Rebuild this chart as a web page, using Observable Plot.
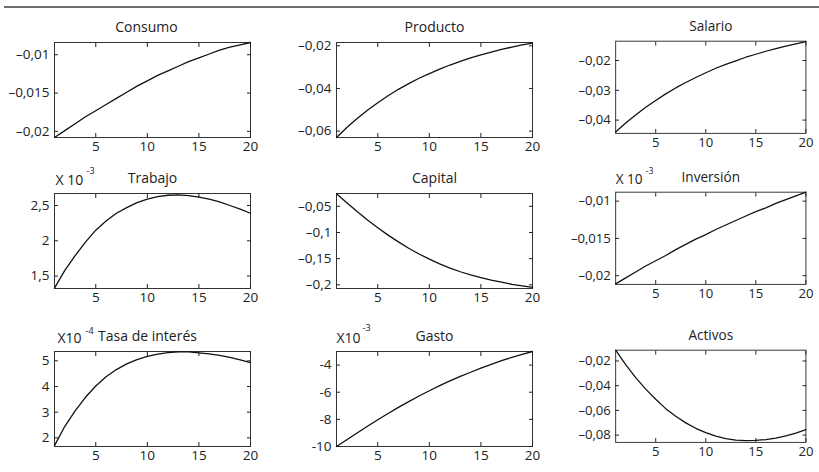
<!DOCTYPE html>
<html><head><meta charset="utf-8">
<script src="https://cdn.jsdelivr.net/npm/d3@7"></script>
<script src="https://cdn.jsdelivr.net/npm/@observablehq/plot@0.6"></script>
<style>
html,body{margin:0;padding:0;background:#fff;}
#root{position:relative;width:819px;height:472px;overflow:hidden;font-family:"Open Sans",sans-serif;}
.rule{position:absolute;left:4px;top:6px;width:815px;border-top:2px solid #6e6e6e;}
.panel{position:absolute;}
.panel svg{overflow:visible;}
</style></head><body><div id="root"><div class="rule"></div></div>
<script>
const periods = [1,2,3,4,5,6,7,8,9,10,11,12,13,14,15,16,17,18,19,20];
const titles = ["Consumo","Producto","Salario","Trabajo","Capital","Inversión","Tasa de interés","Gasto","Activos"];

const consumo   = [-0.0208,-0.0199,-0.0190,-0.0181,-0.0173,-0.0165,-0.0157,-0.0149,-0.0141,-0.0134,-0.0127,-0.0121,-0.0115,-0.0109,-0.0104,-0.0099,-0.0094,-0.0090,-0.0087,-0.0084];
const producto  = [-0.0630,-0.0583,-0.0541,-0.0502,-0.0467,-0.0434,-0.0404,-0.0377,-0.0352,-0.0330,-0.0309,-0.0290,-0.0273,-0.0257,-0.0243,-0.0229,-0.0217,-0.0206,-0.0196,-0.0187];
const salario   = [-0.0440,-0.0410,-0.0383,-0.0357,-0.0334,-0.0312,-0.0292,-0.0274,-0.0257,-0.0241,-0.0226,-0.0213,-0.0201,-0.0189,-0.0179,-0.0169,-0.0160,-0.0152,-0.0144,-0.0137];
const trabajo   = [1.33,1.58,1.79,1.98,2.15,2.28,2.39,2.47,2.54,2.59,2.625,2.645,2.65,2.64,2.62,2.59,2.55,2.50,2.45,2.39];
const capital   = [-0.026,-0.043,-0.060,-0.076,-0.091,-0.105,-0.118,-0.130,-0.141,-0.151,-0.160,-0.168,-0.175,-0.181,-0.186,-0.191,-0.195,-0.199,-0.202,-0.205];
const inversion = [-0.0211,-0.0203,-0.0195,-0.0187,-0.0180,-0.0173,-0.0165,-0.0158,-0.0151,-0.0145,-0.0138,-0.0132,-0.0126,-0.0120,-0.0114,-0.0109,-0.0103,-0.0098,-0.0093,-0.0088];
const tasa      = [1.70,2.45,3.05,3.58,4.02,4.38,4.66,4.88,5.05,5.17,5.26,5.32,5.35,5.35,5.31,5.27,5.21,5.13,5.04,4.93];
const gasto     = [-10.00,-9.50,-9.00,-8.51,-8.03,-7.57,-7.12,-6.69,-6.28,-5.89,-5.52,-5.17,-4.84,-4.53,-4.23,-3.95,-3.68,-3.43,-3.21,-3.00];
const activos   = [-0.0113,-0.0230,-0.0335,-0.0428,-0.0510,-0.0586,-0.0648,-0.0701,-0.0745,-0.0780,-0.0808,-0.0828,-0.0840,-0.0845,-0.0843,-0.0836,-0.0824,-0.0807,-0.0784,-0.0756];

const xTicks = [5,10,15,20];
const consumoTicks = [-0.02,-0.015,-0.01];
const productoTicks = [-0.06,-0.04,-0.02];
const salarioTicks = [-0.04,-0.03,-0.02];
const trabajoTicks = [1.5,2,2.5];
const capitalTicks = [-0.2,-0.15,-0.1,-0.05];
const inversionTicks = [-0.02,-0.015,-0.01];
const tasaTicks = [2,3,4,5];
const gastoTicks = [-10,-8,-6,-4];
const activosTicks = [-0.08,-0.06,-0.04,-0.02];

const fmtDash = d => "\u2013" + String(Math.abs(d)).replace(".", ",");
const fmtComma = d => String(d).replace(".", ",");
const fmtHyphen = d => String(d);

const panels = [
  {title: titles[0], values: consumo,   domain: [-0.0208,-0.0084],  ticks: consumoTicks,  fmt: fmtDash,   col:0, row:0, titleDx:-6},
  {title: titles[1], values: producto,  domain: [-0.0630,-0.01844], ticks: productoTicks, fmt: fmtDash,   col:1, row:0},
  {title: titles[2], values: salario,   domain: [-0.04446,-0.01352],ticks: salarioTicks,  fmt: fmtDash,   col:2, row:0},
  {title: titles[3], values: trabajo,   domain: [1.324,2.670],      ticks: trabajoTicks,  fmt: fmtComma,  col:0, row:1,
     exp: {base:"X 10", power:"-3", dx:1, dy:-13, pdx:32, pdy:-22}},
  {title: titles[4], values: capital,   domain: [-0.207,-0.0255],   ticks: capitalTicks,  fmt: fmtDash,   col:1, row:1},
  {title: titles[5], values: inversion, domain: [-0.02117,-0.0088], ticks: inversionTicks,fmt: fmtDash,   col:2, row:1,
     exp: {base:"X 10", power:"-3", dx:0, dy:-13, pdx:31, pdy:-22}},
  {title: titles[6], values: tasa,      domain: [1.664,5.363],      ticks: tasaTicks,     fmt: fmtComma,  col:0, row:2, titleDx:-5,
     exp: {base:"X10", power:"-4", dx:3, dy:-13, pdx:31, pdy:-20}},
  {title: titles[7], values: gasto,     domain: [-10.0,-3.0],       ticks: gastoTicks,    fmt: fmtHyphen, col:1, row:2,
     exp: {base:"X10", power:"-3", dx:0, dy:-13, pdx:26, pdy:-23}},
  {title: titles[8], values: activos,   domain: [-0.0859,-0.01128], ticks: activosTicks,  fmt: fmtDash,   col:2, row:2}
];

const colLeft = [54, 336, 617], rowTop = [42, 193, 351];
const FW = 196, FH = 95, ML = 62, MR = 14, MT = 44, MB = 24;
const root = document.getElementById("root");
const ink = "#222";

for (const p of panels) {
  const data = periods.map((x, i) => ({x, y: p.values[i]}));
  const marks = [
    Plot.frame({stroke: "#333", strokeWidth: 1}),
    Plot.axisX(xTicks, {anchor: "bottom", tickSize: -4, tickPadding: 8, label: null}),
    Plot.axisX(xTicks, {anchor: "top", tickSize: -4, tickFormat: () => "", label: null}),
    Plot.axisY(p.ticks, {anchor: "left", tickSize: -4, tickPadding: 9, tickFormat: p.fmt, label: null}),
    Plot.axisY(p.ticks, {anchor: "right", tickSize: -4, tickFormat: () => "", label: null}),
    Plot.line(data, {x: "x", y: "y", stroke: "#111", strokeWidth: 1.3}),
    Plot.text([p.title], {text: d => d, frameAnchor: "top", dx: p.titleDx || 0, dy: -15, lineAnchor: "middle", fontSize: 14, fill: ink})
  ];
  if (p.exp) {
    marks.push(Plot.text([p.exp.base], {text: d => d, frameAnchor: "top-left", textAnchor: "start", lineAnchor: "middle", dx: p.exp.dx, dy: p.exp.dy, fontSize: 14, fill: ink}));
    marks.push(Plot.text([p.exp.power], {text: d => d, frameAnchor: "top-left", textAnchor: "start", lineAnchor: "middle", dx: p.exp.pdx, dy: p.exp.pdy, fontSize: 9, fill: ink}));
  }
  const chart = Plot.plot({
    width: ML + FW + MR, height: MT + FH + MB,
    marginLeft: ML, marginRight: MR, marginTop: MT, marginBottom: MB,
    x: {domain: [1, 20], label: null},
    y: {domain: p.domain, label: null},
    style: {fontFamily: '"Open Sans", sans-serif', fontSize: "13.5px", color: ink, background: "transparent", overflow: "visible"},
    marks
  });
  const div = document.createElement("div");
  div.className = "panel";
  div.style.left = (colLeft[p.col] - ML) + "px";
  div.style.top = (rowTop[p.row] - MT) + "px";
  div.appendChild(chart);
  root.appendChild(div);
}
</script></body></html>
